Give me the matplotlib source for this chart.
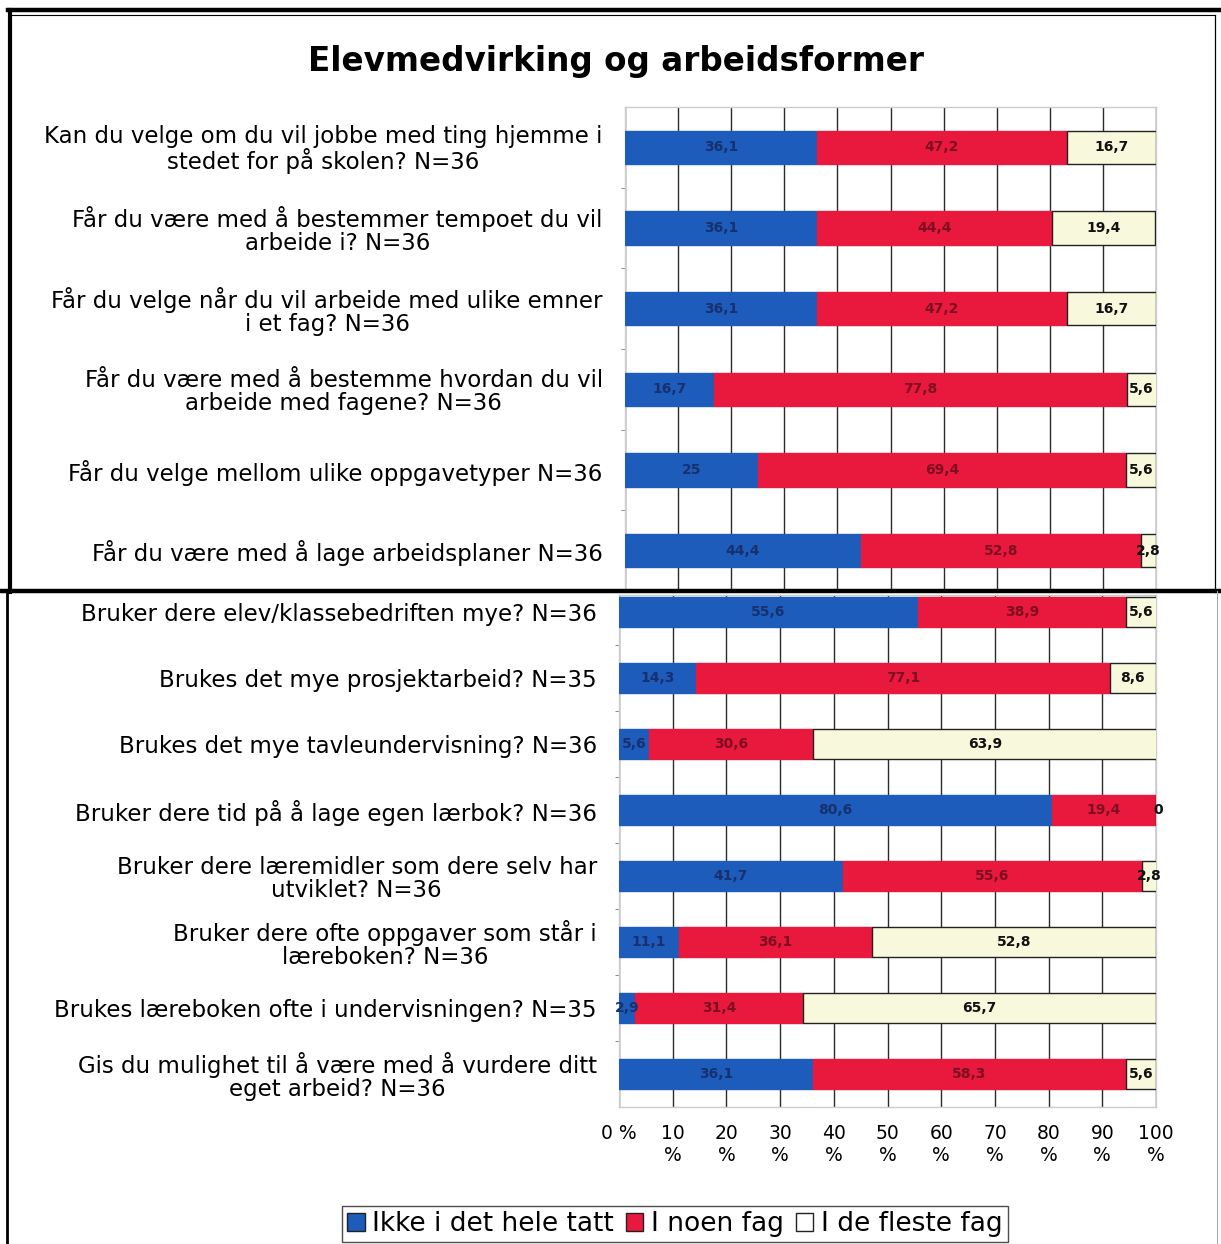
import matplotlib.pyplot as plt
from matplotlib.patches import Patch
from matplotlib.lines import Line2D

# survey answers, percent of pupils
top_questions = [
    "Kan du velge om du vil jobbe med ting hjemme i\nstedet for på skolen? N=36",
    "Får du være med å bestemmer tempoet du vil\narbeide i? N=36",
    "Får du velge når du vil arbeide med ulike emner\ni et fag? N=36",
    "Får du være med å bestemme hvordan du vil\narbeide med fagene? N=36",
    "Får du velge mellom ulike oppgavetyper N=36",
    "Får du være med å lage arbeidsplaner N=36",
]
top_ikke = [36.1, 36.1, 36.1, 16.7, 25, 44.4]
top_noen = [47.2, 44.4, 47.2, 77.8, 69.4, 52.8]
top_fleste = [16.7, 19.4, 16.7, 5.6, 5.6, 2.8]

bottom_questions = [
    "Bruker dere elev/klassebedriften mye? N=36",
    "Brukes det mye prosjektarbeid? N=35",
    "Brukes det mye tavleundervisning? N=36",
    "Bruker dere tid på å lage egen lærbok? N=36",
    "Bruker dere læremidler som dere selv har\nutviklet? N=36",
    "Bruker dere ofte oppgaver som står i\nlæreboken? N=36",
    "Brukes læreboken ofte i undervisningen? N=35",
    "Gis du mulighet til å være med å vurdere ditt\neget arbeid? N=36",
]
bottom_ikke = [55.6, 14.3, 5.6, 80.6, 41.7, 11.1, 2.9, 36.1]
bottom_noen = [38.9, 77.1, 30.6, 19.4, 55.6, 36.1, 31.4, 58.3]
bottom_fleste = [5.6, 8.6, 63.9, 0, 2.8, 52.8, 65.7, 5.6]

series_names = ["Ikke i det hele tatt", "I noen fag", "I de fleste fag"]
x_ticks = [0, 10, 20, 30, 40, 50, 60, 70, 80, 90, 100]
x_ticklabels = ["0 %"] + ["%d\n%%" % t for t in x_ticks[1:]]

BLUE = "#1d5cba"
RED = "#e8193d"
CREAM = "#f8f8dc"
text_cols = ["#17306e", "#7e0f22", "#111111"]

W, H = 1221, 1244
fig = plt.figure(figsize=(W / 100, H / 100), dpi=100)
fig.patch.set_facecolor("white")


def px_axes(x0, y0, x1, y1):
    return fig.add_axes([x0 / W, 1 - y1 / H, (x1 - x0) / W, (y1 - y0) / H])


def fmt(v):
    s = ("%.1f" % v).replace(".", ",")
    if s.endswith(",0"):
        s = s[:-2]
    return s


def draw_panel(ax, questions, ikke, noen, fleste, height, ylim):
    n = len(questions)
    ys = list(range(n))
    left = [0] * n
    for vals, col, tc in zip([ikke, noen, fleste], [BLUE, RED, CREAM], text_cols):
        ax.barh(ys, vals, left=left, height=height, color=col,
                edgecolor="#222222" if col == CREAM else col, linewidth=1.0, zorder=3)
        for y, l, v in zip(ys, left, vals):
            xc = l + v / 2
            if v == 0:
                xc = 100.5
            ax.text(xc, y, fmt(v), ha="center", va="center", fontsize=10,
                    fontweight="bold", color=tc, zorder=4, clip_on=False)
        left = [a + b for a, b in zip(left, vals)]
    ax.set_xlim(0, 100)
    ax.set_ylim(*ylim)
    ax.set_xticks(x_ticks)
    ax.grid(axis="x", color="#2a2a2a", linewidth=1.0, zorder=1)
    ax.set_axisbelow(True)
    ax.set_yticks(ys)
    ax.set_yticklabels(questions, fontsize=16.5, multialignment="center", linespacing=1.0)
    ax.tick_params(axis="y", length=0, pad=16)
    ax.set_yticks([y + 0.5 for y in ys[:-1]], minor=True)
    ax.tick_params(axis="y", which="minor", length=3, color="#777777")
    for s in ax.spines.values():
        s.set_color("#cccccc")
        s.set_linewidth(1.0)


ax_top = px_axes(625, 107, 1156, 591)
draw_panel(ax_top, top_questions, top_ikke, top_noen, top_fleste, 0.41, (5.5, -0.5))
ax_top.tick_params(axis="x", length=0, labelbottom=False)

ax_bot = px_axes(619, 595, 1156, 1107)
draw_panel(ax_bot, bottom_questions, bottom_ikke, bottom_noen, bottom_fleste, 0.45, (7.5, -0.26))
ax_bot.set_xticklabels(x_ticklabels, fontsize=13.5, linespacing=1.25)
ax_bot.tick_params(axis="x", length=0, pad=12)
for lab in ax_bot.get_xticklabels():
    lab.set_verticalalignment("top")

fig.text(616 / W, 1 - 62 / H, "Elevmedvirking og arbeidsformer", ha="center", va="center",
         fontsize=23.5, fontweight="bold")

handles = [Patch(facecolor=BLUE, edgecolor="#222222"),
           Patch(facecolor=RED, edgecolor="#222222"),
           Patch(facecolor="white", edgecolor="#222222")]
leg = fig.legend(handles, series_names, loc="center", bbox_to_anchor=(675 / W, 1 - 1224 / H),
                 ncol=3, fontsize=19, frameon=True, fancybox=False, edgecolor="#222222",
                 handlelength=0.65, handleheight=0.65, handletextpad=0.3, columnspacing=0.45,
                 borderpad=0.2, borderaxespad=0)
leg.get_frame().set_linewidth(1.0)


# border lines around the upper panel and the divider
def fline(xs, ys, lw, col="black"):
    fig.add_artist(Line2D([x / W for x in xs], [1 - y / H for y in ys], lw=lw, color=col))


fline([8, 1221], [10, 10], 3.2)
fline([12, 1215], [15, 15], 0.8)
fline([10, 10], [10, 592], 3.0)
fline([1215, 1215], [15, 592], 0.9)
fline([0, 1221], [591, 591], 3.2)
fline([7, 7], [591, 1244], 2.0)
fline([1217, 1217], [591, 1244], 0.8, "#aaaaaa")

fig.savefig("out.png", dpi=100)
